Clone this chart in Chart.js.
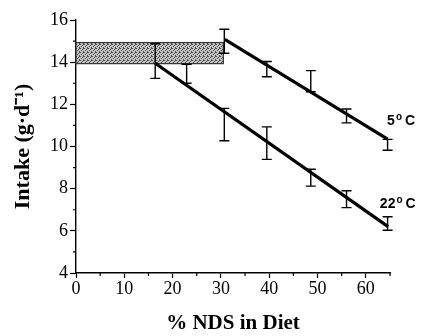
<!DOCTYPE html>
<html>
<head>
<meta charset="utf-8">
<script src="https://cdn.jsdelivr.net/npm/chart.js@4"></script>
<style>
  html, body { margin: 0; padding: 0; background: #fff; }
  #wrap { width: 424px; height: 336px; }
</style>
</head>
<body>
<div id="wrap"><canvas id="intakeChart" width="424" height="336"></canvas></div>
<script>
// Group means with error bars
const ndsCold = [30.7, 39.5, 48.6, 56.0, 64.5];
const intakeCold = [14.99, 13.67, 13.10, 11.45, 10.08];
const errCold = [0.57, 0.36, 0.50, 0.33, 0.26];

const ndsWarm = [16.4, 22.9, 30.7, 39.5, 48.6, 56.0, 64.5];
const intakeWarm = [14.05, 13.45, 11.04, 10.16, 8.52, 7.50, 6.35];
const errWarm = [0.82, 0.45, 0.77, 0.77, 0.40, 0.40, 0.32];

// Fitted regression lines (end points)
const fitColdNds = [30.8, 64.5];
const fitColdIntake = [15.08, 10.35];
const fitWarmNds = [16.4, 64.6];
const fitWarmIntake = [13.95, 6.20];

// Shaded band
const bandNds = [0, 30.5];
const bandIntake = [13.93, 14.93];

// Line labels: [temperature, nds, intake]
const lineLabels = [['5', 64.4, 11.0], ['22', 62.9, 7.08]];

const toPoints = (xs, ys) => xs.map((x, i) => ({ x: x, y: ys[i] }));

// stipple pattern for the band
function stipple() {
    const c = document.createElement('canvas');
    c.width = 4; c.height = 4;
    const g = c.getContext('2d');
    g.fillStyle = '#c4c4c4';
    g.fillRect(0, 0, 4, 4);
    g.fillStyle = '#4a4a4a';
    [[0, 0], [2, 1], [1, 2], [3, 3], [3, 0]].forEach(p => g.fillRect(p[0], p[1], 1, 1));
    return g.createPattern(c, 'repeat');
}

const bandPlugin = {
    id: 'band',
    beforeDatasetsDraw(chart) {
        const { ctx, scales: { x, y } } = chart;
        const x0 = x.getPixelForValue(bandNds[0]), x1 = x.getPixelForValue(bandNds[1]);
        const y0 = y.getPixelForValue(bandIntake[1]), y1 = y.getPixelForValue(bandIntake[0]);
        ctx.save();
        ctx.fillStyle = stipple();
        ctx.fillRect(x0, y0, x1 - x0, y1 - y0);
        ctx.strokeStyle = '#333';
        ctx.lineWidth = 1.2;
        ctx.strokeRect(x0, y0, x1 - x0, y1 - y0);
        ctx.restore();
    }
};

const errorBarPlugin = {
    id: 'errorBars',
    afterDatasetsDraw(chart) {
        const { ctx, scales: { x, y } } = chart;
        ctx.save();
        ctx.strokeStyle = '#000';
        ctx.lineWidth = 1.4;
        chart.data.datasets.forEach(ds => {
            if (!ds.errors) return;
            ds.data.forEach((p, i) => {
                const px = x.getPixelForValue(p.x);
                const top = y.getPixelForValue(p.y + ds.errors[i]);
                const bot = y.getPixelForValue(p.y - ds.errors[i]);
                ctx.beginPath();
                ctx.moveTo(px, top); ctx.lineTo(px, bot);
                ctx.moveTo(px - 5, top); ctx.lineTo(px + 5, top);
                ctx.moveTo(px - 5, bot); ctx.lineTo(px + 5, bot);
                ctx.stroke();
            });
        });
        ctx.restore();
    }
};

const extrasPlugin = {
    id: 'extras',
    afterDraw(chart) {
        const { ctx, scales: { x, y } } = chart;
        ctx.save();
        // minor ticks
        ctx.strokeStyle = '#000';
        ctx.lineWidth = 1.2;
        ctx.beginPath();
        for (let v = 5; v <= 65; v += 10) {
            const px = x.getPixelForValue(v);
            ctx.moveTo(px, y.bottom); ctx.lineTo(px, y.bottom + 3);
        }
        for (let v = 5; v <= 15; v += 2) {
            const py = y.getPixelForValue(v);
            ctx.moveTo(x.left, py); ctx.lineTo(x.left - 3, py);
        }
        ctx.stroke();
        // temperature labels with raised "o"
        ctx.fillStyle = '#000';
        ctx.textBaseline = 'alphabetic';
        lineLabels.forEach(l => {
            let px = x.getPixelForValue(l[1]);
            const py = y.getPixelForValue(l[2]);
            ctx.font = 'bold 14px "Liberation Sans", Arial, sans-serif';
            ctx.fillText(l[0], px, py);
            px += ctx.measureText(l[0]).width + 1;
            ctx.font = 'bold 10px "Liberation Sans", Arial, sans-serif';
            ctx.fillText('o', px, py - 5);
            px += ctx.measureText('o').width + 3;
            ctx.font = 'bold 14px "Liberation Sans", Arial, sans-serif';
            ctx.fillText('C', px, py);
        });
        ctx.restore();
    }
};

const ctx = document.getElementById('intakeChart').getContext('2d');
const intakeChart = new Chart(ctx, {
    type: 'scatter',
    data: {
        datasets: [
            { label: '5 C fit', type: 'line', data: toPoints(fitColdNds, fitColdIntake), borderColor: '#000', borderWidth: 3.2, pointRadius: 0, fill: false },
            { label: '22 C fit', type: 'line', data: toPoints(fitWarmNds, fitWarmIntake), borderColor: '#000', borderWidth: 3.2, pointRadius: 0, fill: false },
            { label: '5 C', data: toPoints(ndsCold, intakeCold), errors: errCold, pointRadius: 0 },
            { label: '22 C', data: toPoints(ndsWarm, intakeWarm), errors: errWarm, pointRadius: 0 }
        ]
    },
    options: {
        responsive: false,
        animation: false,
        layout: { padding: { top: 20, right: 34, left: 0, bottom: 0 } },
        plugins: { legend: { display: false }, tooltip: { enabled: false } },
        scales: {
            x: {
                type: 'linear', min: 0, max: 65,
                afterFit: s => { s.height = 63; },
                border: { color: '#000', width: 1.4 },
                grid: {
                    drawOnChartArea: false, tickLength: 5, tickWidth: 1.2,
                    tickColor: c => (c.tick && c.tick.value % 10 === 0) ? '#000' : 'rgba(0,0,0,0)'
                },
                ticks: {
                    stepSize: 5, autoSkip: false, maxRotation: 0, padding: 0, color: '#000',
                    font: { family: '"Liberation Serif", serif', size: 18 },
                    callback: v => v % 10 === 0 ? v : ''
                },
                title: {
                    display: true, text: '% NDS in Diet', color: '#000',
                    font: { family: '"Liberation Serif", serif', size: 21, weight: 'bold' },
                    padding: { top: 0, bottom: 0 }
                }
            },
            y: {
                min: 4, max: 16,
                afterFit: s => { s.width = 76; },
                border: { color: '#000', width: 1.4 },
                grid: {
                    drawOnChartArea: false, tickLength: 6, tickWidth: 1.2,
                    tickColor: c => (c.tick && c.tick.value % 2 === 0) ? '#000' : 'rgba(0,0,0,0)'
                },
                ticks: {
                    stepSize: 1, autoSkip: false, padding: 2, color: '#000',
                    font: { family: '"Liberation Serif", serif', size: 18 },
                    callback: v => v % 2 === 0 ? v : ''
                },
                title: {
                    display: true, text: 'Intake (g·d⁻¹)', color: '#000',
                    font: { family: '"Liberation Serif", serif', size: 22, weight: 'bold' },
                    padding: { top: 10, bottom: 0 }
                }
            }
        }
    },
    plugins: [bandPlugin, errorBarPlugin, extrasPlugin]
});
</script>
</body>
</html>
